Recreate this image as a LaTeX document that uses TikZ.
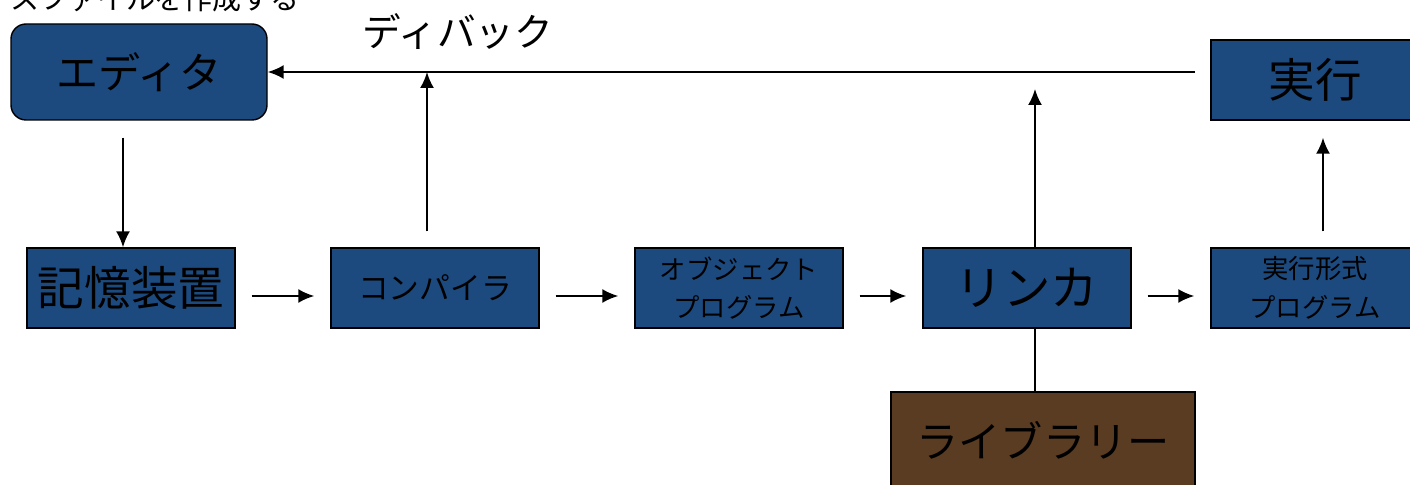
\documentclass[tikz,border=0pt]{standalone}
\usepackage{fontspec}
\setmainfont{Noto Sans CJK JP}
\usepackage{tikz}
\usetikzlibrary{arrows.meta,calc,positioning}
\definecolor{boxblue}{RGB}{28,74,127}
\definecolor{libbrown}{RGB}{90,60,34}
\tikzset{
  block/.style={draw=black,line width=0.8pt,fill=boxblue,text=black,
    minimum width=4.16cm,minimum height=1.6cm,inner sep=0pt,align=center},
  arr/.style={-{Latex[length=0.32cm,width=0.28cm]},line width=1.1pt},
}

\begin{document}
\begin{tikzpicture}
      \useasboundingbox (0,0) rectangle (28.2,9.7);
      % top row
      \node[anchor=center,font=\fontsize{16.5}{18}\selectfont] (note) at (3.1,9.72) {スファイルを作成する};
      \node[block,rounded corners=0.3cm,minimum width=5.12cm,minimum height=1.92cm,
        font=\fontsize{24}{26}\selectfont] (editor) at (2.78,8.26) {エディタ};
      \node[block,font=\fontsize{26.5}{28}\selectfont] (run) at (26.3,8.1) {実行};
      \node[font=\fontsize{22}{24}\selectfont] (debug) at (9.16,9.06) {ディバック};
      % middle row
      \node[block,font=\fontsize{26.5}{28}\selectfont] (memory) at (2.62,3.94) {記憶装置};
      \node[block,font=\fontsize{17.5}{19}\selectfont] (compiler) at (8.70,3.94) {コンパイラ};
      \node[block,font=\fontsize{15}{22}\selectfont] (object) at (14.78,3.94) {オブジェクト\\プログラム};
      \node[block,font=\fontsize{27}{29}\selectfont] (linker) at (20.54,3.94) {リンカ};
      \node[block,font=\fontsize{15}{22}\selectfont] (exec) at (26.30,3.94) {実行形式\\プログラム};
      % bottom
      \node[block,fill=libbrown,minimum width=6.08cm,minimum height=1.92cm,
        font=\fontsize{24}{26}\selectfont] (library) at (20.86,0.9) {ライブラリー};

      % chain
      \foreach \a/\b in {memory/compiler,compiler/object,object/linker,linker/exec}{
        \draw[arr,shorten <=0.32cm,shorten >=0.32cm] ([yshift=-0.16cm]\a.east) -- ([yshift=-0.16cm]\b.west);
      }
      % feedback
      \coordinate (fb) at (23.9,8.26);
      \draw[arr] (fb) -- (editor.east);
      \draw[arr] ([xshift=-0.32cm,yshift=-0.34cm]editor.south) -- ([xshift=-0.16cm]memory.north);
      \draw[arr] ([xshift=-0.16cm,yshift=0.32cm]compiler.north) -- ([xshift=-0.16cm]compiler.north |- fb);
      \draw[arr] ([xshift=0.16cm]linker.north) -- ($([xshift=0.16cm]linker.north |- fb)+(0,-0.34)$);
      \draw[arr] ([xshift=0.16cm,yshift=0.32cm]exec.north) -- ([xshift=0.16cm,yshift=-0.34cm]run.south);
      \draw[line width=1.1pt] ([xshift=0.16cm]linker.south) -- ([xshift=-0.16cm]library.north);
\end{tikzpicture}
\end{document}
